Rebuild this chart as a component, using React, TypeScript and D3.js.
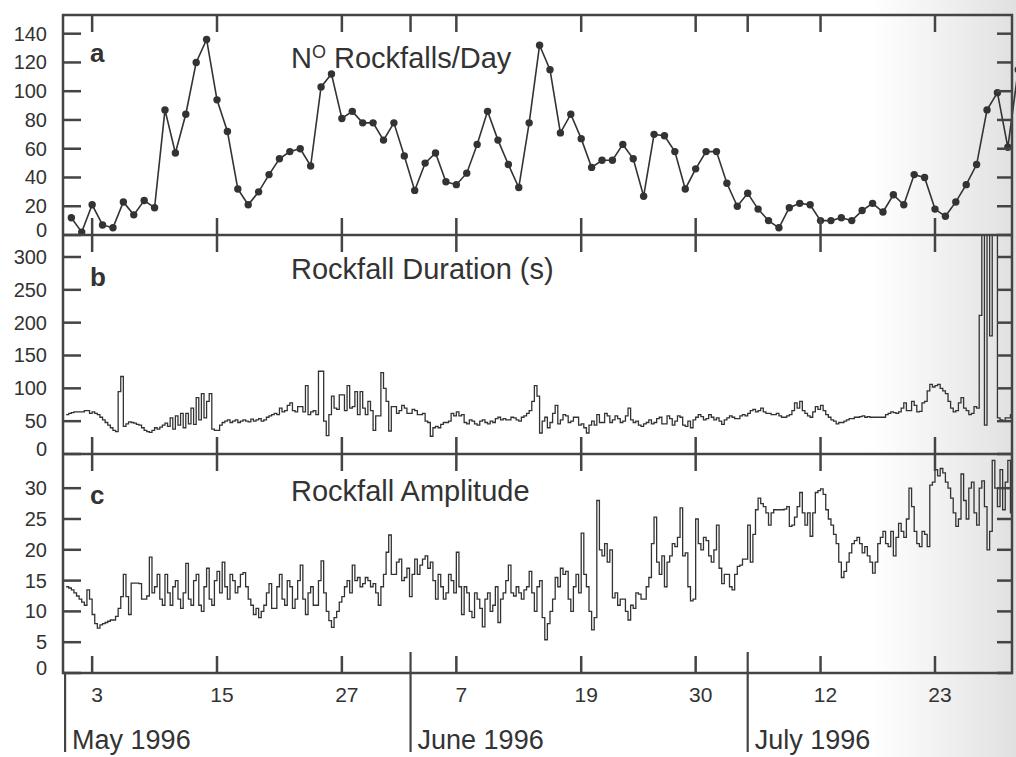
import React from 'react';
import * as d3 from 'd3';

// number of rockfalls per day, one value a day from 1 May 1996
const rockfallsPerDay = [
  12, 2, 21, 7, 5, 23, 14, 24, 19, 87, 57, 84, 120, 136, 94, 72, 32, 21, 30, 42,
  53, 58, 60, 48, 103, 112, 81, 86, 78, 78, 66, 78, 55, 31, 50, 57, 37, 35, 43, 63,
  86, 66, 49, 33, 78, 132, 115, 71, 84, 67, 47, 52, 52, 63, 53, 27, 70, 69, 58, 32,
  46, 58, 58, 36, 20, 29, 18, 10, 5, 19, 22, 21, 10, 10, 12, 10, 17, 22, 16, 28,
  21, 42, 40, 18, 13, 23, 35, 49, 87, 99, 61, 115
];

// rockfall duration (s), quarter-day steps starting half a day before 1 May
const rockfallDuration = [
  60, 62, 63, 64, 64, 64, 64, 66, 66, 62, 64, 62, 60, 56, 52, 48, 44, 40, 36, 34,
  95, 118, 42, 46, 49, 48, 47, 45, 44, 40, 36, 34, 33, 36, 40, 38, 41, 44, 47, 42,
  55, 38, 58, 44, 62, 40, 62, 46, 70, 45, 86, 52, 92, 55, 80, 92, 38, 36, 36, 44,
  48, 50, 52, 48, 50, 52, 48, 50, 52, 50, 49, 53, 50, 52, 54, 50, 52, 56, 58, 60,
  62, 60, 70, 64, 66, 74, 78, 66, 64, 72, 72, 64, 104, 60, 64, 66, 60, 126, 126, 50,
  28, 60, 88, 70, 68, 90, 90, 66, 104, 70, 72, 95, 60, 95, 70, 60, 80, 66, 36, 58,
  58, 124, 100, 80, 35, 72, 72, 62, 66, 74, 70, 62, 62, 68, 66, 60, 60, 62, 50, 48,
  27, 40, 42, 40, 45, 48, 48, 50, 62, 58, 64, 58, 60, 48, 46, 52, 50, 46, 44, 50,
  52, 48, 46, 50, 48, 54, 56, 52, 54, 52, 52, 56, 55, 52, 50, 56, 58, 62, 66, 80,
  104, 88, 32, 50, 56, 40, 48, 62, 74, 46, 52, 60, 58, 48, 50, 56, 56, 44, 46, 40,
  32, 44, 50, 44, 60, 48, 48, 62, 58, 48, 52, 58, 54, 48, 50, 58, 70, 52, 48, 50,
  44, 42, 46, 48, 52, 46, 48, 54, 56, 46, 46, 58, 54, 44, 50, 58, 56, 44, 42, 50,
  40, 52, 56, 60, 57, 52, 54, 60, 56, 52, 55, 50, 45, 52, 55, 58, 56, 54, 54, 58,
  60, 58, 62, 66, 68, 64, 66, 70, 64, 62, 62, 60, 60, 62, 58, 56, 56, 58, 60, 66,
  78, 70, 80, 66, 62, 58, 56, 64, 72, 68, 74, 66, 60, 56, 52, 50, 46, 48, 48, 50,
  52, 54, 54, 56, 56, 57, 58, 56, 57, 56, 56, 56, 56, 56, 56, 60, 62, 64, 63, 62,
  64, 70, 78, 66, 66, 80, 74, 64, 65, 78, 80, 96, 106, 102, 104, 106, 100, 96, 92, 80,
  70, 64, 66, 78, 86, 70, 66, 60, 62, 72, 70, 211, 340, 44, 340, 180, 340, 340, 55, 52,
  50, 55, 55, 60, 186, 62
];

// rockfall amplitude, same quarter-day steps
const rockfallAmplitude = [
  14, 13.8, 13.5, 13, 12.5, 12, 11.5, 11, 13.5, 12, 9.5, 8, 7.3, 7.8, 8, 8.2, 8.4, 8.6, 8.6, 9.2,
  10.5, 12.4, 16, 12.4, 9.5, 14.6, 14.6, 14.6, 14.5, 12, 12, 12.5, 18.8, 13, 14, 16, 12, 11, 16, 13,
  11, 14, 15, 12, 10.5, 13, 17.8, 12, 11, 15, 16, 11, 10, 14, 17, 12, 11, 15, 16.5, 13,
  18, 14, 12, 16, 15, 13, 14, 16, 16.3, 14, 12, 11, 9.5, 10.5, 9, 10, 11, 13, 14.5, 10.5,
  10.5, 14, 16, 12, 11, 15, 14, 10.5, 12, 15, 17.5, 12, 9.5, 13, 14, 11, 11, 15, 18.2, 13,
  10, 8.5, 7.4, 9, 10, 11.5, 12.4, 14, 15, 13, 17.5, 15, 15.5, 14, 14.5, 15.5, 15, 14, 14.5, 13,
  11, 14, 16, 19.6, 22.4, 16, 16, 18, 18.5, 15, 15.5, 17, 12.4, 16, 18.5, 16, 17.5, 18.5, 19, 17,
  18, 15, 12, 16, 14, 12, 13, 16, 15, 13, 19.6, 14, 9.5, 14, 13, 10, 9, 13, 12, 10.5,
  7.5, 12, 13, 10, 11, 14, 8.2, 12, 13, 15, 17.5, 13, 12.5, 14, 13, 12, 13.5, 14, 16.5, 13,
  10, 14, 15, 9, 5.4, 8, 10, 12, 15.5, 14, 17, 16, 16.5, 12, 10, 14, 16, 13, 22.7, 16,
  14, 10, 7, 9, 28, 20, 19, 21, 18, 20, 12.2, 13, 11, 12, 12, 10, 8.6, 11, 10.5, 13,
  12.8, 12, 12, 14, 15.5, 21, 25.3, 18, 16, 19, 14, 18, 19, 21, 20.5, 22, 26.8, 19, 19.5, 14,
  11.7, 12, 25, 21, 20, 22, 21.5, 19, 18, 20, 24, 17, 14.5, 16, 16, 14, 13.5, 16, 17.3, 17.5,
  18.5, 18.5, 24, 18, 22.5, 26.5, 28.4, 27.5, 27, 26, 24, 26, 26.5, 26.5, 26.5, 26.5, 26.6, 27, 23.8, 24,
  25.3, 27, 29.3, 26, 24, 26, 22.2, 26, 29.3, 29.6, 29.9, 29, 26.5, 25, 24, 22.5, 21, 18, 15.5, 16.5,
  18, 19.5, 21, 21.5, 22, 21, 19.5, 20.5, 19, 18, 16.2, 18, 21, 22, 23, 21, 20.5, 23, 19, 22,
  24.3, 23, 22, 25, 30, 27, 23, 21, 20.5, 23, 22.5, 20.5, 30.5, 31, 33, 32, 33.2, 32.5, 31, 30,
  28.4, 26, 23.8, 25, 32.3, 28, 25, 30, 31, 26, 24, 30, 31.2, 27, 20, 23, 34.5, 30, 27, 33,
  26.5, 31, 34.5, 26, 23.4, 30
];

const countTicks = [0, 20, 40, 60, 80, 100, 120, 140];
const durationTicks = [0, 50, 100, 150, 200, 250, 300];
const amplitudeTicks = [0, 5, 10, 15, 20, 25, 30];

// days counted from 1 May 1996 = 0
const dayTicks = [2, 14, 26, 37, 49, 60, 72, 83];
const dayTickLabels = ['3', '15', '27', '7', '19', '30', '12', '23'];
const monthMarks = [-0.6, 32.6, 65.0];
const monthLabels = ['May 1996', 'June 1996', 'July 1996'];

const W = 1016, H = 757;
const left = 63, right = 1012;
const ink = '#333';
const frameInk = '#444';
const font = '"Liberation Sans", Arial, Helvetica, sans-serif';

const x = d3.scaleLinear().domain([-0.8, 90.4]).range([left, right]);
const quarterDay = (i: number) => -0.5 + i * 0.25;

function Panel(props: any) {
  const { top, bottom, max, ticks, letter, letterY, title, titleY, id, clip, topMonthTicks } = props;
  const y = d3.scaleLinear().domain([0, max]).range([bottom, top]);
  const topTicks = topMonthTicks ? dayTicks.concat(monthMarks.slice(1)) : dayTicks;

  return (
    <g>
      <clipPath id={id}>
        <rect x={left} y={top} width={right - left} height={bottom - top} />
      </clipPath>
      <g clipPath={clip ? `url(#${id})` : undefined}>{props.children(y)}</g>

      {ticks.map((t: number) => (
        <g key={t}>
          <line x1={left} x2={left + 18} y1={y(t)} y2={y(t)} stroke={frameInk} strokeWidth={2.5} />
          <line x1={right - 15} x2={right} y1={y(t)} y2={y(t)} stroke={frameInk} strokeWidth={2.5} />
          <text x={47} y={y(t) - (t === 0 ? 5 : 0)} dy="0.35em" textAnchor="end"
                fontSize={20} fill={ink} fontFamily={font}>{t}</text>
        </g>
      ))}

      {topTicks.map((d: number, i: number) => (
        <line key={'t' + i} x1={x(d)} x2={x(d)} y1={top} y2={top + 17} stroke={frameInk} strokeWidth={2.5} />
      ))}
      {dayTicks.map((d: number, i: number) => (
        <line key={'b' + i} x1={x(d)} x2={x(d)} y1={bottom} y2={bottom - 17} stroke={frameInk} strokeWidth={2.5} />
      ))}

      <text x={90} y={letterY} fontSize={26} fontWeight="bold" fill={ink} fontFamily={font}>{letter}</text>
      <text x={291} y={titleY} fontSize={29} fill={ink} fontFamily={font}>{title}</text>
    </g>
  );
}

export default function App() {
  const separators = [235, 454];

  return (
    <svg width={W} height={H} style={{ position: 'absolute', left: 0, top: 0, background: '#fff' }}>
      <defs>
        <linearGradient id="scanTint" x1="0" x2="1" y1="0" y2="0">
          <stop offset="0" stopColor="#e4e4e4" stopOpacity={0} />
          <stop offset="1" stopColor="#e0e0e0" stopOpacity={1} />
        </linearGradient>
      </defs>
      <rect x={870} y={0} width={W - 870} height={H} fill="url(#scanTint)" />

      <Panel id="pa" top={15} bottom={235} max={153} ticks={countTicks} letter="a" letterY={62}
             titleY={68} topMonthTicks clip={false}
             title={<>N<tspan fontSize={18} dy={-10}>O</tspan><tspan dy={10}> Rockfalls/Day</tspan></>}>
        {(y: any) => {
          const line = d3.line<number>().x((d, i) => x(i)).y(d => y(d));
          return (
            <g>
              <path d={line(rockfallsPerDay) || ''} fill="none" stroke={ink} strokeWidth={1.6} />
              {rockfallsPerDay.map((d, i) => (
                <circle key={i} cx={x(i)} cy={y(d)} r={3.7} fill={ink} />
              ))}
            </g>
          );
        }}
      </Panel>

      <Panel id="pb" top={235} bottom={454} max={333.5} ticks={durationTicks} letter="b" letterY={286}
             titleY={279} title="Rockfall Duration (s)" clip>
        {(y: any) => {
          const line = d3.line<number>().x((d, i) => x(quarterDay(i))).y(d => y(d)).curve(d3.curveStepAfter);
          return <path d={line(rockfallDuration) || ''} fill="none" stroke={ink} strokeWidth={1.3} />;
        }}
      </Panel>

      <Panel id="pc" top={454} bottom={673} max={35.55} ticks={amplitudeTicks} letter="c" letterY={504}
             titleY={501} title="Rockfall Amplitude" clip>
        {(y: any) => {
          const line = d3.line<number>().x((d, i) => x(quarterDay(i))).y(d => y(d)).curve(d3.curveStepAfter);
          return <path d={line(rockfallAmplitude) || ''} fill="none" stroke={ink} strokeWidth={1.3} />;
        }}
      </Panel>

      {/* frame */}
      <rect x={left} y={15} width={right - left} height={673 - 15} fill="none" stroke={frameInk} strokeWidth={2.5} />
      {separators.map(s => (
        <line key={s} x1={left} x2={right} y1={s} y2={s} stroke={frameInk} strokeWidth={2.5} />
      ))}

      {/* date axis */}
      {dayTicks.map((d, i) => (
        <text key={i} x={x(d) + 5} y={702} textAnchor="middle" fontSize={21} fill={ink} fontFamily={font}>
          {dayTickLabels[i]}
        </text>
      ))}
      {monthMarks.map((d, i) => (
        <g key={i}>
          <line x1={x(d)} x2={x(d)} y1={i === 0 ? 673 : 652} y2={752} stroke={frameInk} strokeWidth={2.2} />
          <text x={x(d) + 7} y={749} fontSize={27} fill={ink} fontFamily={font}>{monthLabels[i]}</text>
        </g>
      ))}
    </svg>
  );
}
